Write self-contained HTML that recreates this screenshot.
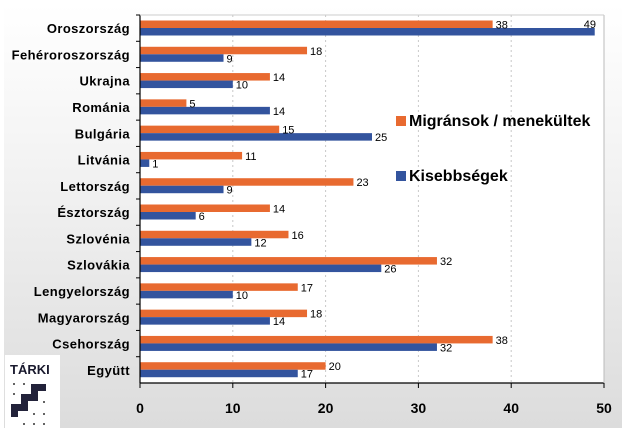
<!DOCTYPE html>
<html><head><meta charset="utf-8"><style>
html,body{margin:0;padding:0;width:624px;height:433px;overflow:hidden;background:#fff;font-family:"Liberation Sans",Arial,sans-serif}
</style></head><body>
<svg id="chart" width="624" height="433" xmlns="http://www.w3.org/2000/svg">
<defs>
<linearGradient id="bg" x1="0" y1="0" x2="0" y2="1">
<stop offset="0" stop-color="#ffffff"/><stop offset="0.35" stop-color="#f4f4f4"/><stop offset="1" stop-color="#dcdcdc"/>
</linearGradient>
</defs>
<rect x="4" y="4" width="618" height="424" fill="url(#bg)"/>
<rect x="140" y="15" width="464" height="368" fill="#fff"/>
<g id="grid"></g><g id="bars"></g><g id="labels"></g><g id="axes"></g>
<g>
<rect x="396" y="116" width="10" height="10" fill="#e86a30"/>
<text x="409" y="126" font-size="16" font-weight="bold" fill="#000">Migránsok / menekültek</text>
<rect x="396" y="171" width="10" height="10" fill="#33549e"/>
<text x="409" y="181" font-size="16" font-weight="bold" fill="#000">Kisebbségek</text>
</g>
<g>
<rect x="5" y="355" width="55" height="75" fill="#fff"/>
<text x="10" y="374" font-size="13" font-weight="bold" fill="#1a1a2e">TÁRKI</text>
<path d="M11 404 L21 404 L21 394 L31 394 L31 384 L46 384 L46 391 L38 391 L38 401 L28 401 L28 411 L18 411 L18 417 L11 417 Z" fill="#22223a"/>
<circle cx="14" cy="384" r="1" fill="#333"/><circle cx="24" cy="384" r="1" fill="#333"/><circle cx="14" cy="394" r="1" fill="#333"/>
<circle cx="44" cy="402" r="1" fill="#333"/><circle cx="34" cy="414" r="1" fill="#333"/><circle cx="44" cy="414" r="1" fill="#333"/><circle cx="24" cy="424" r="1" fill="#333"/><circle cx="34" cy="424" r="1" fill="#333"/><circle cx="44" cy="424" r="1" fill="#333"/>
</g>
</svg>
<script>
const categories=["Oroszország","Fehéroroszország","Ukrajna","Románia","Bulgária","Litvánia","Lettország","Észtország","Szlovénia","Szlovákia","Lengyelország","Magyarország","Csehország","Együtt"];
const migrants=[38,18,14,5,15,11,23,14,16,32,17,18,38,20];
const minorities=[49,9,10,14,25,1,9,6,12,26,10,14,32,17];
const ticks=[0,10,20,30,40,50];
const NS="http://www.w3.org/2000/svg";
const X0=140,X1=604,Y0=15,Y1=383;
const xs=v=>X0+(v/50)*(X1-X0);
const rowH=(Y1-Y0)/categories.length;
const ys=i=>Y0+i*rowH;
function mk(tag,attrs,parent){const e=document.createElementNS(NS,tag);for(const k in attrs)e.setAttribute(k,attrs[k]);document.getElementById(parent).appendChild(e);return e;}
ticks.forEach((t,i)=>{
 if(t>0){const g=mk('line',{x1:xs(t),x2:xs(t),y1:Y0,y2:Y1,stroke:'#c8c8c8','stroke-dasharray':'2,3'},'grid');
 
 }
 const tl=mk('text',{x:xs(t),y:413,'font-size':14,'font-weight':'bold','text-anchor':'middle'},'axes');tl.textContent=t;
 
 
 const tk=mk('line',{x1:xs(t),x2:xs(t),y1:Y1,y2:Y1+5,stroke:'#000'},'axes');
 
 
});
categories.forEach((c,i)=>{
 const top=ys(i);
 const bh=7.5, by=top+5.5;
 const a=mk('rect',{x:X0,y:by,width:xs(migrants[i])-X0,height:bh,fill:'#e86a30'},'bars');
 
 
 const b=mk('rect',{x:X0,y:by+bh,width:xs(minorities[i])-X0,height:bh,fill:'#33549e'},'bars');
 
 
 const la=mk('text',{x:xs(migrants[i])+3,y:by+8,'font-size':11,fill:'#000'},'labels');la.textContent=migrants[i];
 
 
 const lb=mk('text',{x:xs(minorities[i])+(i===0?-11:3),y:by+bh+(i===0?0:8),'font-size':11,fill:'#000'},'labels');lb.textContent=minorities[i];
 
 
 const cl=mk('text',{x:130,y:top+rowH/2+5,'font-size':13,'font-weight':'bold','text-anchor':'end','letter-spacing':'0.4'},'axes');cl.textContent=c;
 
 
 const ct=mk('line',{x1:X0-4,x2:X0,y1:top,y2:top,stroke:'#000'},'axes');
 
 
});
const ya=mk('line',{x1:X0,x2:X0,y1:Y0,y2:Y1,stroke:'#000','stroke-width':1.2},'axes');


const xa=mk('line',{x1:X0,x2:X1,y1:Y1,y2:Y1,stroke:'#000','stroke-width':1.2},'axes');


const rb=mk('line',{x1:X1,x2:X1,y1:Y0,y2:Y1,stroke:'#bbb'},'axes');


const tb=mk('line',{x1:X0,x2:X1,y1:Y0,y2:Y0,stroke:'#ccc'},'axes');


</script>
</body></html>
